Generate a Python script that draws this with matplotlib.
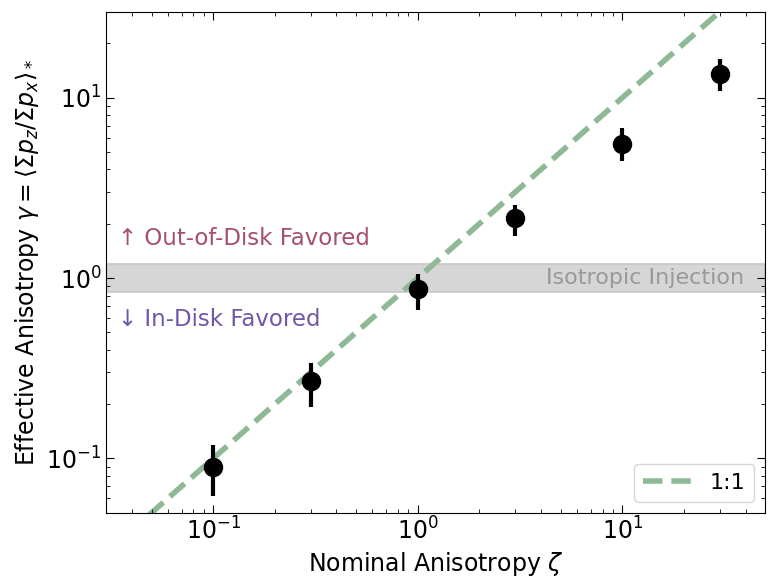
import numpy as np
import matplotlib
matplotlib.use("Agg")
import matplotlib.pyplot as plt

# Data
zeta = [0.1, 0.3, 1.0, 3.0, 10.0, 30.0]
gamma = [0.090, 0.267, 0.87, 2.16, 5.55, 13.5]
gamma_hi = [0.118, 0.336, 1.05, 2.55, 6.75, 16.4]
gamma_lo = [0.062, 0.192, 0.665, 1.72, 4.45, 10.9]
iso_band = [1 / 1.2, 1.2]
one_to_one = [0.03, 50.0]

yerr = [np.array(gamma) - np.array(gamma_lo), np.array(gamma_hi) - np.array(gamma)]

fig, ax = plt.subplots(figsize=(7.81, 5.8), dpi=100)

ax.axhspan(iso_band[0], iso_band[1], color='#d6d6d6', ec='#c8c8c8', lw=1.2, zorder=0)
ax.plot(one_to_one, one_to_one, ls='--', color='#8fb996', lw=4, dashes=(3.5, 1.6), label='1:1', zorder=1)
ax.errorbar(zeta, gamma, yerr=yerr, fmt='o', color='black', ms=13, elinewidth=3, capsize=0, zorder=3)

ax.text(0.0175, 1.65, '\u2191 Out-of-Disk Favored', transform=ax.get_yaxis_transform(),
        color='#a5506e', fontsize=16.5, ha='left', va='center')
ax.text(0.0175, 0.59, '\u2193 In-Disk Favored', transform=ax.get_yaxis_transform(),
        color='#7058a8', fontsize=16.5, ha='left', va='center')
ax.text(0.967, 1.0, 'Isotropic Injection', transform=ax.get_yaxis_transform(),
        color='#999999', fontsize=16, ha='right', va='center')

ax.set_xscale('log')
ax.set_yscale('log')
ax.set_xlim(0.03, 50)
ax.set_ylim(0.05, 30)
ax.tick_params(which='both', direction='in', top=True, right=True, labelsize=17)
ax.tick_params(which='major', length=6)
ax.tick_params(which='minor', length=3)
ax.set_xlabel(r'Nominal Anisotropy $\zeta$', fontsize=17)
ax.set_ylabel(r'Effective Anisotropy $\gamma = \langle \Sigma p_z / \Sigma p_x \rangle_*$', fontsize=17)
ax.legend(loc='lower right', fontsize=16, handlelength=2.2)

fig.subplots_adjust(left=0.136, right=0.98, top=0.98, bottom=0.116)
fig.savefig('out.png', dpi=100)
